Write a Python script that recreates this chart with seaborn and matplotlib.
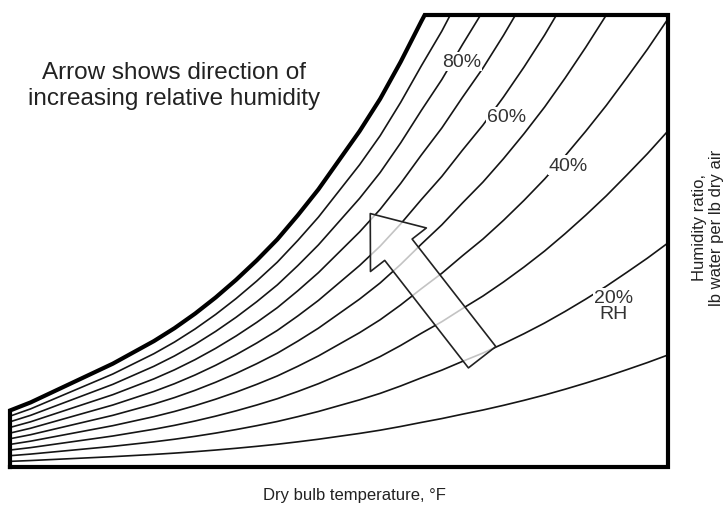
import numpy as np
import pandas as pd
import matplotlib.pyplot as plt
import seaborn as sns

# ---------------------------------------------------------------------------
# Data
# ---------------------------------------------------------------------------
# saturation curve (100% RH): dry bulb temp (F) vs humidity ratio (lb/lb)
temps = [30, 32.5, 35, 37.5, 40, 42.5, 45, 47.5, 50, 52.5, 55, 57.5,
         60, 62.5, 65, 67.5, 70, 72.5, 75, 77.5, 80, 82.5, 85, 87.5,
         90, 92.5, 95, 97.5, 100, 102.5, 105, 107.5, 110]
w_sat = [0.0035, 0.0040, 0.0046, 0.0052, 0.0058, 0.0064, 0.0071, 0.0078,
         0.0086, 0.0095, 0.0105, 0.0116, 0.0128, 0.0141, 0.0156, 0.0172,
         0.0190, 0.0208, 0.0228, 0.0251, 0.0276, 0.0300, 0.0327, 0.0353,
         0.0382, 0.0413, 0.0446, 0.0482, 0.0520, 0.0560, 0.0603, 0.0647,
         0.0694]

rh_levels = [0.1, 0.2, 0.3, 0.4, 0.5, 0.6, 0.7, 0.8, 0.9]

# in-line RH labels
label_text = ["80%", "60%", "40%", "20%\nRH"]
label_t = [84.9, 90.4, 97.9, 103.4]
label_w = [0.0251, 0.0217, 0.0187, 0.0100]

# arrow (tail -> head) in chart units
arrow_tail = (87.4, 0.0068)
arrow_head = (73.8, 0.0157)

T_MIN, T_MAX = 30, 110
W_TOP = 0.028

# ---------------------------------------------------------------------------
# Figure
# ---------------------------------------------------------------------------
sns.set_theme(style="white")
plt.rcParams["font.family"] = ["Liberation Sans", "DejaVu Sans"]

fig = plt.figure(figsize=(7.27, 5.10), dpi=100)
ax = fig.add_axes([10 / 727, 1 - 468 / 510, 658 / 727, 452 / 510])

# RH lines as fractions of saturation
df = pd.DataFrame({
    "T": np.tile(temps, len(rh_levels)),
    "rh": np.repeat(rh_levels, len(temps)),
})
df["w"] = df["rh"] * np.tile(w_sat, len(rh_levels))

sns.lineplot(data=df, x="T", y="w", hue="rh", estimator=None,
             palette={r: "#151515" for r in rh_levels},
             linewidth=1.2, legend=False, ax=ax)

# chart outline: left edge, saturation curve, top, right edge, bottom
t_arr = np.array(temps, dtype=float)
w_arr = np.array(w_sat)
t_top = np.interp(W_TOP, w_arr, t_arr)
keep = w_arr < W_TOP
out_t = np.concatenate([[T_MIN], t_arr[keep], [t_top, T_MAX, T_MAX, T_MIN]])
out_w = np.concatenate([[0], w_arr[keep], [W_TOP, W_TOP, 0, 0]])
ax.plot(out_t, out_w, color="black", linewidth=3, clip_on=False,
        solid_joinstyle="miter", solid_capstyle="projecting", zorder=5)

for txt, t, w in zip(label_text, label_t, label_w):
    ax.text(t, w, txt, ha="center", va="center", fontsize=14,
            color="#333333", linespacing=0.95,
            bbox=dict(facecolor="white", edgecolor="none", pad=0.8), zorder=4)

ax.annotate("", xy=arrow_head, xytext=arrow_tail,
            arrowprops=dict(arrowstyle="simple,head_length=33,head_width=51,tail_width=25",
                            mutation_scale=1, shrinkA=0, shrinkB=0,
                            fc=(1, 1, 1, 0.75), ec="#222222", lw=1.2),
            zorder=4)

ax.text(0.249, 0.845, "Arrow shows direction of\nincreasing relative humidity",
        transform=ax.transAxes, ha="center", va="center", fontsize=17.5,
        color="#222222", linespacing=1.25)

ax.set_xlim(T_MIN, T_MAX)
ax.set_ylim(0, W_TOP)
ax.axis("off")

fig.text(354 / 727, 1 - 496 / 510, "Dry bulb temperature, \u00b0F",
         ha="center", va="center", fontsize=12, color="#222222")
fig.text(708 / 727, 1 - 228 / 510, "Humidity ratio,\nlb water per lb dry air",
         ha="center", va="center", rotation=90, fontsize=12, color="#222222",
         linespacing=1.15)

fig.savefig("out.png", dpi=100)
